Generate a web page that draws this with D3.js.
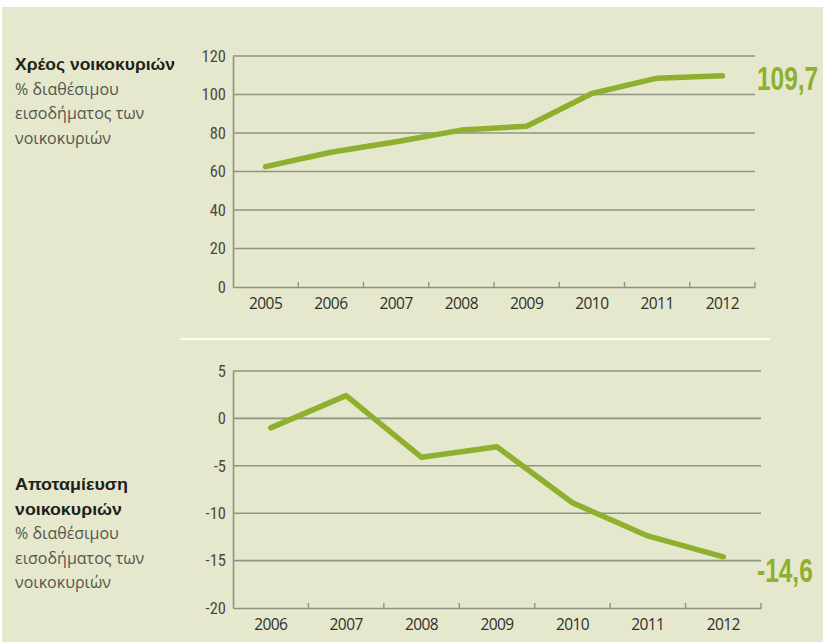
<!DOCTYPE html>
<html><head><meta charset="utf-8">
<script src="https://cdn.jsdelivr.net/npm/d3@7"></script>
<style>body{margin:0;background:#fff}svg{display:block}</style>
</head><body>
<script>
const debtYears = ["2005","2006","2007","2008","2009","2010","2011","2012"];
const debtValues = [62.5, 70, 75.5, 81.5, 83.5, 100.5, 108.5, 109.7];
const debtTicks = [0,20,40,60,80,100,120];
const saveYears = ["2006","2007","2008","2009","2010","2011","2012"];
const saveValues = [-1, 2.4, -4.1, -3.0, -8.9, -12.4, -14.6];
const saveTicks = [-20,-15,-10,-5,0,5];
const debtTitle = ["Χρέος νοικοκυριών"];
const debtSub = ["% διαθέσιμου","εισοδήματος των","νοικοκυριών"];
const saveTitle = ["Αποταμίευση","νοικοκυριών"];
const saveSub = ["% διαθέσιμου","εισοδήματος των","νοικοκυριών"];
const debtLabel = "109,7";
const saveLabel = "-14,6";

const W=823,H=642;
const green="#8fb02e", grid="#8f9382", bg="#e6e8cd";
const svg=d3.select("body").append("svg").attr("width",W).attr("height",H);
svg.append("rect").attr("x",2).attr("y",7).attr("width",W-2).attr("height",H-7).attr("fill",bg);
svg.append("line").attr("x1",180).attr("x2",770).attr("y1",339).attr("y2",339).attr("stroke","#fbfbf0").attr("stroke-width",2);

function panel(years, values, ticks, x0, x1, y0, y1, label, labelY){
  const x=d3.scaleBand().domain(years).range([x0,x1]);
  const y=d3.scaleLinear().domain([ticks[0],ticks[ticks.length-1]]).range([y0,y1]);
  const g=svg.append("g");
  g.selectAll(".gl").data(ticks.slice(1)).join("line")
    .attr("x1",x0).attr("x2",x1).attr("y1",d=>y(d)).attr("y2",d=>y(d))
    .attr("stroke",grid).attr("stroke-width",1.6);
  const ya=g.append("g").attr("transform",`translate(${x0},0)`)
    .call(d3.axisLeft(y).tickValues(ticks).tickFormat(d=>String(d)).tickSize(0).tickPadding(7));
  ya.select(".domain").attr("stroke",grid).attr("stroke-width",1.6);
  ya.selectAll("text").attr("fill","#4a4a42").style("font-family","'Liberation Sans Narrow','Roboto Condensed',Roboto,sans-serif").style("font-size","16.5px");
  const xa=g.append("g").attr("transform",`translate(0,${y0})`)
    .call(d3.axisBottom(x).tickSize(0).tickPadding(11));
  xa.select(".domain").attr("stroke",grid).attr("stroke-width",1.6);
  xa.selectAll("text").attr("fill","#2f2f2a").style("font-family","'Open Sans',sans-serif").style("font-size","15.5px").attr("letter-spacing","-0.6");
  const bounds=years.slice(1).map(d=>x(d)).concat([x1]);
  g.selectAll(".bt").data(bounds).join("line")
    .attr("x1",d=>d).attr("x2",d=>d).attr("y1",y0).attr("y2",y0-5)
    .attr("stroke",grid).attr("stroke-width",1.4);
  const line=d3.line().x((d,i)=>x(years[i])+x.bandwidth()/2).y(d=>y(d));
  g.append("path").datum(values).attr("d",line).attr("fill","none")
    .attr("stroke",green).attr("stroke-width",5.5).attr("stroke-linejoin","round").attr("stroke-linecap","round");
  g.append("text").attr("transform",`translate(757,${labelY}) scale(0.72,1)`).text(label)
    .attr("fill",green).style("font-family","'Liberation Sans',sans-serif").style("font-weight","bold").style("font-size","34px");
}
panel(debtYears, debtValues, debtTicks, 233, 755, 287, 56, debtLabel, 90);
panel(saveYears, saveValues, saveTicks, 233, 761, 608, 371, saveLabel, 582);

function texts(title, titleW, sub, yStart){
  let yy=yStart;
  title.forEach((s,i)=>{
    svg.append("text").attr("x",15).attr("y",yy).text(s).attr("fill","#1f1f1a")
      .style("font-family","'Liberation Sans',sans-serif").style("font-weight","bold").style("font-size","16.5px")
      .attr("textLength",titleW[i]).attr("lengthAdjust","spacingAndGlyphs");
    yy+=24.5;
  });
  sub.forEach(s=>{
    svg.append("text").attr("x",15).attr("y",yy).text(s).attr("fill","#55564c")
      .style("font-family","'Open Sans',sans-serif").style("font-size","16px");
    yy+=24.5;
  });
}
texts(debtTitle, [160], debtSub, 70);
texts(saveTitle, [113,107], saveSub, 490);
</script>
</body></html>
